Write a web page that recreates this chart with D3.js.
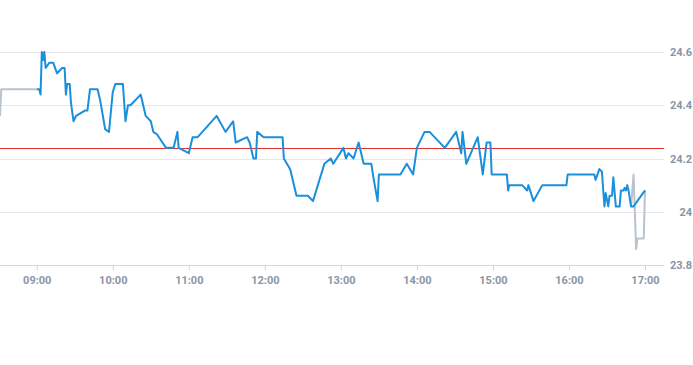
<!DOCTYPE html>
<html><head><meta charset="utf-8">
<script src="https://cdn.jsdelivr.net/npm/d3@7/dist/d3.min.js"></script>
<style>
html,body{margin:0;padding:0;background:#fff;}
svg{display:block;}
</style></head>
<body><svg id="chart" width="693" height="365"></svg>
<script>
// Pre-market (grey)
const preTimes = ["08:31","08:32","09:00"];
const preValues = [24.36,24.46,24.46];
// Regular session (blue)
const mainTimes = ["09:00","09:02","09:03","09:04","09:05","09:06","09:07","09:10","09:13","09:16","09:20","09:22","09:23","09:24","09:26","09:27","09:29","09:31","09:38","09:40","09:42","09:48","09:50","09:54","09:57","10:00","10:02","10:08","10:10","10:12","10:14","10:22","10:26","10:30","10:32","10:35","10:42","10:48","10:51","10:52","11:00","11:03","11:07","11:22","11:29","11:35","11:37","11:46","11:48","11:51","11:53","11:54","11:59","12:14","12:15","12:20","12:25","12:34","12:38","12:47","12:52","12:54","13:02","13:04","13:06","13:10","13:14","13:18","13:24","13:26","13:29","13:30","13:47","13:52","13:57","14:00","14:06","14:10","14:22","14:31","14:35","14:36","14:39","14:48","14:52","14:55","14:58","14:59","15:11","15:12","15:13","15:23","15:27","15:28","15:32","15:39","15:58","15:59","16:20","16:21","16:24","16:26","16:28","16:29","16:31","16:32","16:34","16:35","16:37","16:40","16:41","16:43","16:44","16:45","16:46","16:47","16:49","16:51","17:00"];
const mainValues = [24.46,24.46,24.44,24.60,24.57,24.60,24.54,24.56,24.56,24.52,24.54,24.54,24.44,24.48,24.48,24.41,24.34,24.36,24.38,24.38,24.46,24.46,24.42,24.31,24.30,24.45,24.48,24.48,24.34,24.40,24.40,24.44,24.36,24.34,24.30,24.29,24.24,24.24,24.30,24.24,24.22,24.28,24.28,24.36,24.30,24.34,24.26,24.28,24.26,24.20,24.20,24.30,24.28,24.28,24.20,24.16,24.06,24.06,24.04,24.18,24.20,24.18,24.24,24.20,24.22,24.20,24.26,24.18,24.18,24.12,24.04,24.14,24.14,24.18,24.14,24.24,24.30,24.30,24.24,24.30,24.22,24.30,24.18,24.28,24.14,24.26,24.26,24.14,24.14,24.08,24.10,24.10,24.08,24.10,24.04,24.10,24.10,24.14,24.14,24.12,24.16,24.15,24.02,24.07,24.02,24.06,24.06,24.13,24.02,24.02,24.08,24.08,24.09,24.08,24.10,24.08,24.02,24.02,24.08];
// Post-market (grey)
const postTimes = ["16:49","16:51","16:53","16:54","16:59","17:00"];
const postValues = [24.02,24.14,23.86,23.90,23.90,24.08];
const prevClose = 24.24;
const xTickLabels = ["09:00","10:00","11:00","12:00","13:00","14:00","15:00","16:00","17:00"];
const yTickValues = [23.8,24.0,24.2,24.4,24.6];

const parse = d3.timeParse("%H:%M");
const svg = d3.select("#chart");
const x = d3.scaleTime().domain([parse("08:31"), parse("17:15")]).range([0, 664]);
const y = d3.scaleLinear().domain([23.8, 24.6]).range([265, 52]);

const toData = (ts, vs) => ts.map((t,i)=>({t:parse(t), v:vs[i]}));
const pre = toData(preTimes, preValues);
const main = toData(mainTimes, mainValues);
const post = toData(postTimes, postValues);

// grid
svg.append("g").selectAll("line").data(yTickValues).join("line")
  .attr("x1", 0).attr("x2", 664)
  .attr("y1", d=>Math.round(y(d))+0.5).attr("y2", d=>Math.round(y(d))+0.5)
  .attr("stroke", d=> d===23.8 ? "#ccd6eb" : "#e6e6e6").attr("stroke-width",1);

// y labels
const fmtY = d => d===24 ? "24" : d3.format(".1f")(d);
svg.append("g").selectAll("text").data(yTickValues).join("text")
  .attr("x", 692).attr("y", d=>y(d)+4)
  .attr("text-anchor","end")
  .attr("font-family","Roboto, 'Liberation Sans', sans-serif")
  .attr("font-size","11px").attr("fill","#8a96a3").attr("font-weight","bold")
  .text(fmtY);

// x axis ticks
const xAxis = d3.axisBottom(x)
  .tickValues(xTickLabels.map(parse))
  .tickFormat(d3.timeFormat("%H:%M"))
  .tickSize(5).tickSizeOuter(0);
const gx = svg.append("g").attr("transform","translate(0,265.5)").call(xAxis);
gx.select(".domain").remove();
gx.selectAll(".tick line").attr("stroke","#ccd6eb");
gx.selectAll(".tick text").attr("dy","0").attr("y",18)
  .attr("font-family","Roboto, 'Liberation Sans', sans-serif")
  .attr("font-size","11px").attr("fill","#8a96a3").attr("font-weight","bold");

// previous close
svg.append("line").attr("x1",0).attr("x2",664)
  .attr("y1", Math.round(y(prevClose))+0.5).attr("y2", Math.round(y(prevClose))+0.5)
  .attr("stroke","#e0312b").attr("stroke-width",1);

const line = d3.line().x(d=>x(d.t)).y(d=>y(d.v));
svg.append("path").datum(pre).attr("d", line).attr("fill","none")
  .attr("stroke","#b9c3cc").attr("stroke-width",2).attr("stroke-linejoin","round");
svg.append("path").datum(post).attr("d", line).attr("fill","none")
  .attr("stroke","#b9c3cc").attr("stroke-width",2).attr("stroke-linejoin","round");
svg.append("path").datum(main).attr("d", line).attr("fill","none")
  .attr("stroke","#1a8fdc").attr("stroke-width",2).attr("stroke-linejoin","round");
</script></body></html>
